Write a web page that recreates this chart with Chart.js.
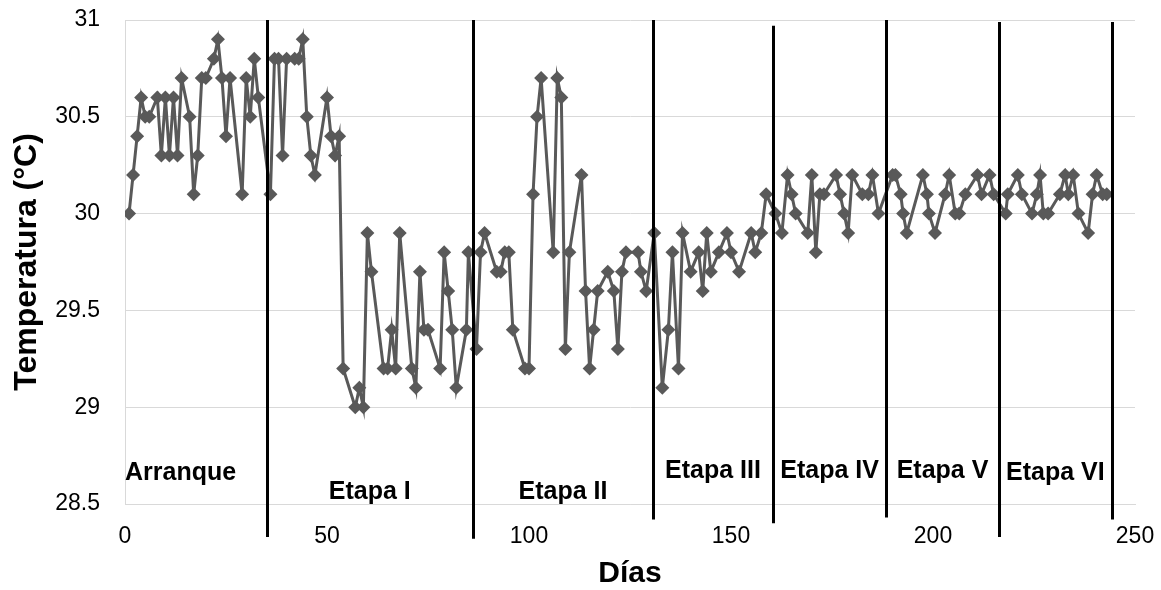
<!DOCTYPE html>
<html>
<head>
<meta charset="utf-8">
<script src="https://cdn.jsdelivr.net/npm/chart.js@4.4.1/dist/chart.umd.min.js"></script>
<style>
  html, body { margin: 0; padding: 0; background: #ffffff; }
  #wrap { width: 1161px; height: 590px; position: relative; }
</style>
</head>
<body>
<div id="wrap"><canvas id="c" width="1161" height="590"></canvas></div>
<script>
// ---- data ----
const days = [
  1, 2, 3, 4, 5, 6, 8, 9, 10, 11, 12, 13, 14, 16, 17, 18, 19, 20, 22, 23, 24, 25, 26, 29, 30, 31, 32, 33,
  36, 37, 38, 39, 40, 42, 43, 44, 45, 46, 47, 50, 51, 52, 53, 54, 57, 58, 59, 60, 61, 64, 65, 66, 67, 68,
  71, 72, 73, 74, 75, 78, 79, 80, 81, 82, 84.5, 85,
  87, 88, 89, 92, 93, 94, 95, 96, 99, 100, 101, 102, 103, 106, 107, 108, 109, 110, 113, 114, 115, 116, 117,
  119.5, 121, 122, 123, 124, 127, 127.7, 129, 131,
  133, 134.5, 135.5, 137, 138, 140, 142, 143, 144, 145, 147, 149, 150, 152, 155, 156, 157.5, 158.7,
  161, 162.6, 164, 165, 166, 169, 170, 171, 172, 173, 176, 177, 178, 179, 180, 182.5, 184, 185, 186.5,
  190, 190.7, 192, 192.6, 193.5, 197.5, 198.5, 199, 200.5, 203, 204, 205.5, 206.5, 208, 211, 212, 214, 215,
  218, 218.5, 221, 222, 224.5, 225.7, 226.5, 227.3, 228.5, 231.4, 232.7, 233.5, 234.7, 236, 238.4, 239.5,
  240.5, 242, 243
];
const temps = [
  30.0, 30.2, 30.4, 30.6, 30.5, 30.5, 30.6, 30.3, 30.6, 30.3, 30.6, 30.3, 30.7, 30.5, 30.1, 30.3, 30.7, 30.7,
  30.8, 30.9, 30.7, 30.4, 30.7, 30.1, 30.7, 30.5, 30.8, 30.6,
  30.1, 30.8, 30.8, 30.3, 30.8, 30.8, 30.8, 30.9, 30.5, 30.3, 30.2, 30.6, 30.4, 30.3, 30.4, 29.2, 29.0, 29.1,
  29.0, 29.9, 29.7, 29.2, 29.2, 29.4, 29.2, 29.9,
  29.2, 29.1, 29.7, 29.4, 29.4, 29.2, 29.8, 29.6, 29.4, 29.1, 29.4, 29.8,
  29.3, 29.8, 29.9, 29.7, 29.7, 29.8, 29.8, 29.4, 29.2, 29.2, 30.1, 30.5, 30.7, 29.8, 30.7, 30.6, 29.3, 29.8,
  30.2, 29.6, 29.2, 29.4, 29.6,
  29.7, 29.6, 29.3, 29.7, 29.8, 29.8, 29.7, 29.6, 29.9,
  29.1, 29.4, 29.8, 29.2, 29.9, 29.7, 29.8, 29.6, 29.9, 29.7, 29.8, 29.9, 29.8, 29.7, 29.9, 29.8, 29.9, 30.1,
  30.0, 29.9, 30.2, 30.1, 30.0, 29.9, 30.2, 29.8, 30.1, 30.1, 30.2, 30.1, 30.0, 29.9, 30.2, 30.1, 30.1, 30.2, 30.0,
  30.2, 30.2, 30.1, 30.0, 29.9, 30.2, 30.1, 30.0, 29.9, 30.1, 30.2, 30.0, 30.0, 30.1, 30.2, 30.1, 30.2, 30.1,
  30.0, 30.1, 30.2, 30.1, 30.0, 30.1, 30.2, 30.0, 30.0, 30.1, 30.2, 30.1, 30.2, 30.0, 29.9, 30.1,
  30.2, 30.1, 30.1
];
const xTicks = [0, 50, 100, 150, 200, 250];
const yTicks = [28.5, 29, 29.5, 30, 30.5, 31];
const stageNames = ['Arranque', 'Etapa I', 'Etapa II', 'Etapa III', 'Etapa IV', 'Etapa V', 'Etapa VI'];
const stageEnds = [35.1, 86.1, 130.7, 160.4, 188.4, 216.3, 244.3];

// ---- styling ----
const FONT = '"Liberation Sans", Arial, sans-serif';
const GREY = '#595959';

const points = days.map((d, i) => ({ x: d, y: temps[i] }));

const stagePlugin = {
  id: 'stages',
  afterDatasetsDraw(chart, args, opts) {
    const { ctx, scales: { x, y } } = chart;
    ctx.save();
    ctx.strokeStyle = '#000000';
    ctx.lineWidth = 3;
    stageEnds.forEach((d, i) => {
      const px = Math.round(x.getPixelForValue(d)) + 0.5;
      ctx.beginPath();
      ctx.moveTo(px, y.getPixelForValue(opts.lineTop[i]));
      ctx.lineTo(px, y.getPixelForValue(opts.lineBottom[i]));
      ctx.stroke();
    });
    ctx.fillStyle = '#000000';
    ctx.font = 'bold ' + opts.fontSize + 'px ' + FONT;
    ctx.textBaseline = 'middle';
    stageNames.forEach((name, i) => {
      const start = i === 0 ? 0 : stageEnds[i - 1];
      const end = stageEnds[i];
      let px;
      if (i === 0) {
        ctx.textAlign = 'left';
        px = x.getPixelForValue(start);
      } else {
        ctx.textAlign = 'center';
        px = x.getPixelForValue((start + end) / 2);
      }
      ctx.fillText(name, px, y.getPixelForValue(opts.labelLevel[i]));
    });
    ctx.restore();
  }
};

new Chart(document.getElementById('c'), {
  type: 'line',
  data: {
    datasets: [{
      data: points,
      borderColor: GREY,
      backgroundColor: GREY,
      borderWidth: 3,
      pointStyle: 'rectRot',
      pointRadius: 7,
      pointBorderWidth: 0,
      pointBackgroundColor: GREY,
      pointBorderColor: GREY,
      tension: 0,
      fill: false
    }]
  },
  plugins: [stagePlugin],
  options: {
    responsive: false,
    animation: false,
    devicePixelRatio: 1,
    layout: { padding: { left: 0, right: 26, top: 20, bottom: 0 } },
    plugins: {
      legend: { display: false },
      tooltip: { enabled: false },
      stages: {
        fontSize: 25,
        lineTop: [31, 31, 31, 30.97, 31, 30.99, 30.99],
        lineBottom: [28.33, 28.32, 28.42, 28.40, 28.43, 28.33, 28.42],
        labelLevel: [28.66, 28.56, 28.56, 28.67, 28.67, 28.67, 28.66]
      }
    },
    scales: {
      x: {
        type: 'linear',
        min: 0,
        max: 250,
        afterBuildTicks: (s) => { s.ticks = xTicks.map(v => ({ value: v })); },
        afterFit: (s) => { s.height = 86; s.paddingLeft = 0; s.paddingRight = 0; },
        grid: { display: false, drawTicks: false },
        border: { display: true, color: '#d9d9d9', width: 1 },
        ticks: { color: '#000000', font: { family: FONT, size: 23 }, padding: 19, maxRotation: 0, callback: (v) => String(v) },
        title: { display: true, text: 'Días', color: '#000000', font: { family: FONT, size: 30, weight: 'bold' }, padding: { top: 0, bottom: -2 } }
      },
      y: {
        type: 'linear',
        min: 28.5,
        max: 31,
        afterBuildTicks: (s) => { s.ticks = yTicks.map(v => ({ value: v })); },
        afterFit: (s) => { s.width = 125; s.paddingTop = 0; s.paddingBottom = 0; },
        grid: { color: '#d9d9d9', lineWidth: 1, drawTicks: false },
        border: { display: true, color: '#d9d9d9', width: 1 },
        ticks: { color: '#000000', font: { family: FONT, size: 23 }, padding: 25, callback: (v) => String(v) },
        title: { display: true, text: 'Temperatura (°C)', color: '#000000', font: { family: FONT, size: 32, weight: 'bold' }, padding: { top: 8, bottom: 0 } }
      }
    }
  }
});
</script>
</body>
</html>
